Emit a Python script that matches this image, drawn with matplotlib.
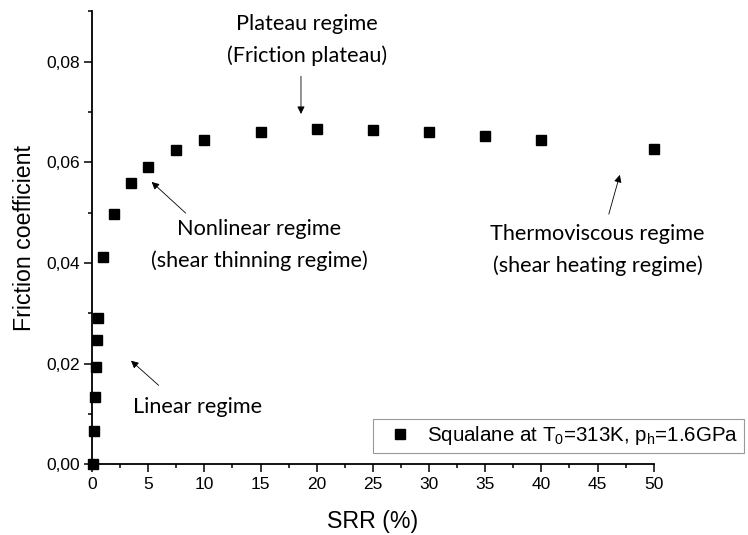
import matplotlib
matplotlib.use('Agg')
import matplotlib.pyplot as plt
from matplotlib.ticker import MultipleLocator, FuncFormatter

# данные: SRR (%) и коэффициент трения
srr = [0.05, 0.15, 0.25, 0.33, 0.42, 0.5, 1, 2, 3.5, 5, 7.5, 10, 15, 20, 25, 30, 35, 40, 50]
friction = [0.0, 0.0067, 0.0133, 0.0194, 0.0248, 0.0291, 0.0412, 0.0498, 0.0558, 0.0591,
            0.0624, 0.0644, 0.0661, 0.0666, 0.0664, 0.0660, 0.0653, 0.0645, 0.0626]
legend_label = 'Squalane at T$_\\mathregular{0}$=313K, p$_\\mathregular{h}$=1.6GPa'

plt.rcParams['font.family'] = ['Liberation Sans', 'DejaVu Sans']
note_font = 'Lato'
note_size = 15.6

fig = plt.figure(figsize=(7.48, 5.35), dpi=100)
ax = fig.add_axes([0.123, 0.132, 0.751, 0.847])

ax.plot(srr, friction, 's', color='black', markersize=7, label=legend_label, clip_on=False, zorder=3)

ax.set_xlim(0, 50)
ax.set_ylim(0, 0.09)
ax.xaxis.set_major_locator(MultipleLocator(5))
ax.xaxis.set_minor_locator(MultipleLocator(2.5))
ax.yaxis.set_major_locator(MultipleLocator(0.02))
ax.yaxis.set_minor_locator(MultipleLocator(0.01))
ax.yaxis.set_major_formatter(FuncFormatter(lambda v, p: f'{v:.2f}'.replace('.', ',')))

for s in ['top', 'right']:
    ax.spines[s].set_visible(False)
for s in ['left', 'bottom']:
    ax.spines[s].set_linewidth(1.3)
ax.tick_params(which='major', direction='out', length=5.5, width=1.1, labelsize=12.5)
ax.tick_params(which='minor', direction='out', length=3, width=1.1)

ax.set_xlabel('SRR (%)', fontsize=16.7, labelpad=13)
ax.set_ylabel('Friction coefficient', fontsize=16.7, labelpad=7)

arrow = dict(arrowstyle='-|>', color='black', lw=0.6, mutation_scale=11, shrinkA=0, shrinkB=0)

ax.text(19.1, 0.0843, 'Plateau regime\n(Friction plateau)', ha='center', va='center',
        fontsize=note_size, family=note_font, linespacing=1.65)
ax.annotate('', xy=(18.6, 0.0696), xytext=(18.6, 0.0771), arrowprops=arrow)

ax.text(14.86, 0.0436, 'Nonlinear regime\n(shear thinning regime)', ha='center', va='center',
        fontsize=note_size, family=note_font, linespacing=1.65)
ax.annotate('', xy=(5.31, 0.0561), xytext=(8.34, 0.0499), arrowprops=arrow)

ax.text(9.39, 0.01135, 'Linear regime', ha='center', va='center', fontsize=note_size, family=note_font)
ax.annotate('', xy=(3.47, 0.0206), xytext=(5.93, 0.0157), arrowprops=arrow)

ax.text(45.0, 0.0426, 'Thermoviscous regime\n(shear heating regime)', ha='center', va='center',
        fontsize=note_size, family=note_font, linespacing=1.65)
ax.annotate('', xy=(46.98, 0.0575), xytext=(46.0, 0.0497), arrowprops=arrow)

leg = ax.legend(loc='lower left', bbox_to_anchor=(0.5, 0.026), fontsize=14.8, frameon=True,
                fancybox=False, edgecolor='#808080', borderpad=0.25, handletextpad=0.3,
                handlelength=2.1, borderaxespad=0)
leg.get_frame().set_linewidth(0.8)

fig.savefig('out.png', dpi=100)
